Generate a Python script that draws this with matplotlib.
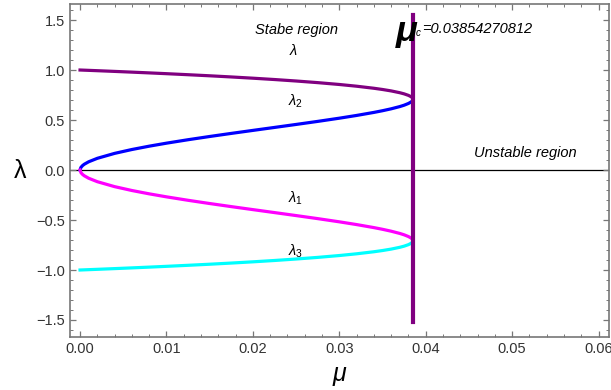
import matplotlib
matplotlib.use("Agg")
import matplotlib.pyplot as plt
from matplotlib.ticker import MultipleLocator, FuncFormatter

plt.rcParams['font.family'] = ['Liberation Sans', 'DejaVu Sans']
plt.rcParams['mathtext.fontset'] = 'custom'
plt.rcParams['mathtext.rm'] = 'Liberation Sans'
plt.rcParams['mathtext.it'] = 'Liberation Sans:italic'

# values
mu = [0, 0.0001, 0.0003, 0.0005, 0.001, 0.002, 0.004, 0.006, 0.008, 0.010,
      0.0125, 0.015, 0.0175, 0.020, 0.0225, 0.025, 0.0275, 0.030, 0.032,
      0.034, 0.035, 0.036, 0.037, 0.0375, 0.038, 0.0383, 0.0384, 0.0385,
      0.03851, 0.03852]
lam = [1.0, 0.9997, 0.9990, 0.9983, 0.9966, 0.9932, 0.9861, 0.9788, 0.9712,
       0.9633, 0.9530, 0.9422, 0.9306, 0.9182, 0.9048, 0.8901, 0.8738,
       0.8553, 0.8380, 0.8175, 0.8052, 0.7909, 0.7729, 0.7614, 0.7463,
       0.7329, 0.7263, 0.7151, 0.7129, 0.7071]
lam2 = [0.0, 0.0260, 0.0450, 0.0582, 0.0824, 0.1169, 0.1663, 0.2050, 0.2383,
        0.2684, 0.3029, 0.3352, 0.3661, 0.3961, 0.4258, 0.4557, 0.4862,
        0.5182, 0.5457, 0.5760, 0.5930, 0.6120, 0.6345, 0.6482, 0.6656,
        0.6804, 0.6874, 0.6990, 0.7013, 0.7071]
lam1 = [-0.0, -0.0260, -0.0450, -0.0582, -0.0824, -0.1169, -0.1663, -0.2050,
        -0.2383, -0.2684, -0.3029, -0.3352, -0.3661, -0.3961, -0.4258,
        -0.4557, -0.4862, -0.5182, -0.5457, -0.5760, -0.5930, -0.6120,
        -0.6345, -0.6482, -0.6656, -0.6804, -0.6874, -0.6990, -0.7013, -0.7071]
lam3 = [-1.0, -0.9997, -0.9990, -0.9983, -0.9966, -0.9932, -0.9861, -0.9788,
        -0.9712, -0.9633, -0.9530, -0.9422, -0.9306, -0.9182, -0.9048,
        -0.8901, -0.8738, -0.8553, -0.8380, -0.8175, -0.8052, -0.7909,
        -0.7729, -0.7614, -0.7463, -0.7329, -0.7263, -0.7151, -0.7129, -0.7071]
mu_c = 0.03854270812

fig = plt.figure(figsize=(6.11, 3.9), dpi=100)
ax = fig.add_axes([0.1146, 0.1359, 0.8821, 0.8538])

ax.axhline(0, color='black', lw=0.9, zorder=1)
ax.plot(mu, lam, color='#800080', lw=2.3, zorder=3)
ax.plot(mu, lam2, color='#0000ff', lw=2.3, zorder=3)
ax.plot(mu, lam1, color='#ff00ff', lw=2.3, zorder=3)
ax.plot(mu, lam3, color='#00ffff', lw=2.3, zorder=3)
ax.plot([mu_c, mu_c], [-1.52, 1.55], color='#800080', lw=3, zorder=4)

ax.set_xlim(-0.00116, 0.0612)
ax.set_ylim(-1.67, 1.66)

ax.xaxis.set_major_locator(MultipleLocator(0.01))
ax.xaxis.set_minor_locator(MultipleLocator(0.002))
ax.yaxis.set_major_locator(MultipleLocator(0.5))
ax.yaxis.set_minor_locator(MultipleLocator(0.1))
ax.xaxis.set_major_formatter(FuncFormatter(lambda v, p: f'{v:.2f}'.replace('-', '\u2212')))
ax.yaxis.set_major_formatter(FuncFormatter(lambda v, p: f'{v:.1f}'.replace('-', '\u2212')))
ax.tick_params(which='both', direction='in', top=True, right=True,
               color='#777777', labelcolor='#333333', labelsize=10.5)
ax.tick_params(which='major', length=4.5, width=0.9)
ax.tick_params(which='minor', length=2.5, width=0.7)
for s in ax.spines.values():
    s.set_color('#777777')
    s.set_linewidth(1.2)

ax.set_xlabel(r'$\mu$', fontsize=18, labelpad=6)
ax.set_ylabel('\u03bb', fontsize=18, rotation=0, labelpad=12, va='center')

ax.text(0.0251, 1.40, 'Stabe region', style='italic', fontsize=10.5,
        ha='center', va='center')
ax.text(0.0247, 1.20, r'$\lambda$', fontsize=10.5, ha='center', va='center')
ax.text(0.0249, 0.69, r'$\lambda_2$', fontsize=10.5, ha='center', va='center')
ax.text(0.0249, -0.28, r'$\lambda_1$', fontsize=10.5, ha='center', va='center')
ax.text(0.0249, -0.81, r'$\lambda_3$', fontsize=10.5, ha='center', va='center')
ax.text(0.0515, 0.17, 'Unstable region', style='italic', fontsize=10.5,
        ha='center', va='center')
ax.text(0.0378, 1.39, '\u03bc', fontsize=26, style='italic', fontweight='bold',
        ha='center', va='center', zorder=5)
ax.text(0.03912, 1.37, 'c', style='italic', fontsize=7,
        ha='center', va='center')
ax.text(0.03955, 1.41, '=0.03854270812', style='italic', fontsize=10.5,
        ha='left', va='center')

fig.savefig('out.png', dpi=100)
